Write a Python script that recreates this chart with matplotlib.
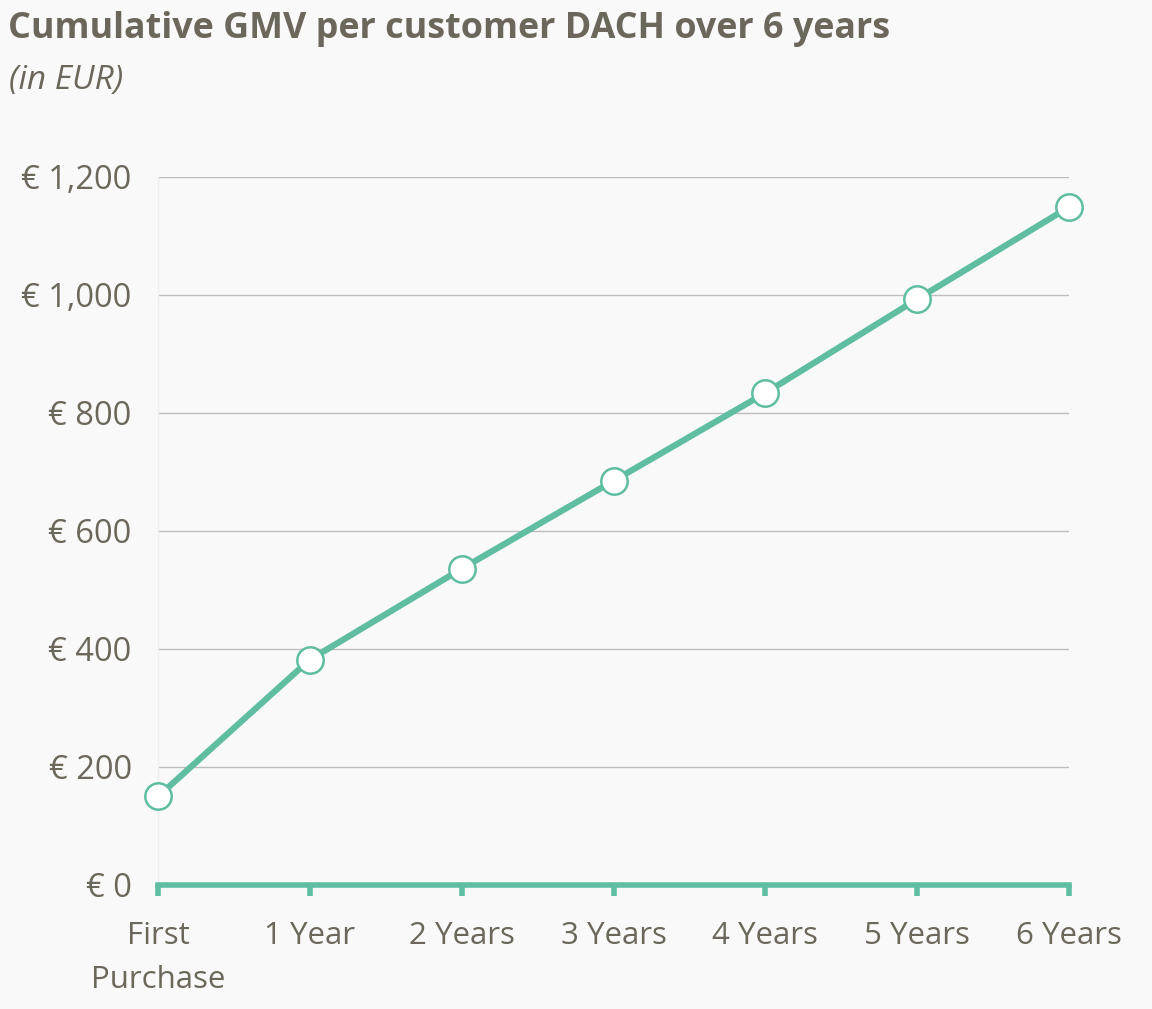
import matplotlib.pyplot as plt
from matplotlib.ticker import FuncFormatter

categories = ['First\nPurchase', '1 Year', '2 Years', '3 Years', '4 Years', '5 Years', '6 Years']
gmv = [150, 382, 536, 685, 834, 993, 1149]
y_ticks = [0, 200, 400, 600, 800, 1000, 1200]

teal = '#5fbda1'
text_col = '#6b675b'
bg = '#f9f9f9'

plt.rcParams['font.family'] = ['Open Sans', 'DejaVu Sans']

fig = plt.figure(figsize=(11.52, 10.09), dpi=100, facecolor=bg)
ax = fig.add_axes([0.1372, 0.1229, 0.7908, 0.7017])
ax.set_facecolor(bg)

x = list(range(len(categories)))
ax.plot(x, gmv, color=teal, lw=4.5, marker='o', ms=19, mfc='white',
        mec=teal, mew=1.8, clip_on=False, zorder=5)

ax.set_xlim(0, len(categories) - 1)
ax.set_ylim(0, 1200)
ax.set_yticks(y_ticks)
ax.yaxis.set_major_formatter(FuncFormatter(lambda v, p: '€ {:,.0f}'.format(v)))
ax.set_xticks(x)
ax.set_xticklabels(categories, linespacing=1.6)

ax.grid(axis='y', color='#bdbdbd', lw=1)
ax.set_axisbelow(True)

for s in ['top', 'right']:
    ax.spines[s].set_visible(False)
ax.spines['left'].set_color('#eeeeee')
ax.spines['left'].set_linewidth(1)
ax.spines['bottom'].set_color(teal)
ax.spines['bottom'].set_linewidth(4)
ax.spines['bottom'].set_zorder(6)

ax.tick_params(axis='y', length=0, pad=19, labelsize=23.5, labelcolor=text_col)
ax.tick_params(axis='x', length=8, width=4, color=teal, pad=18,
               labelsize=22.5, labelcolor=text_col)

fig.text(0.007, 0.971, 'Cumulative GMV per customer DACH over 6 years',
         fontsize=25.8, fontweight='bold', color=text_col, va='center', ha='left')
fig.text(0.008, 0.92, '(in EUR)', fontsize=24, fontstyle='italic',
         color=text_col, va='center', ha='left')

fig.savefig('out.png', dpi=100, facecolor=bg)
